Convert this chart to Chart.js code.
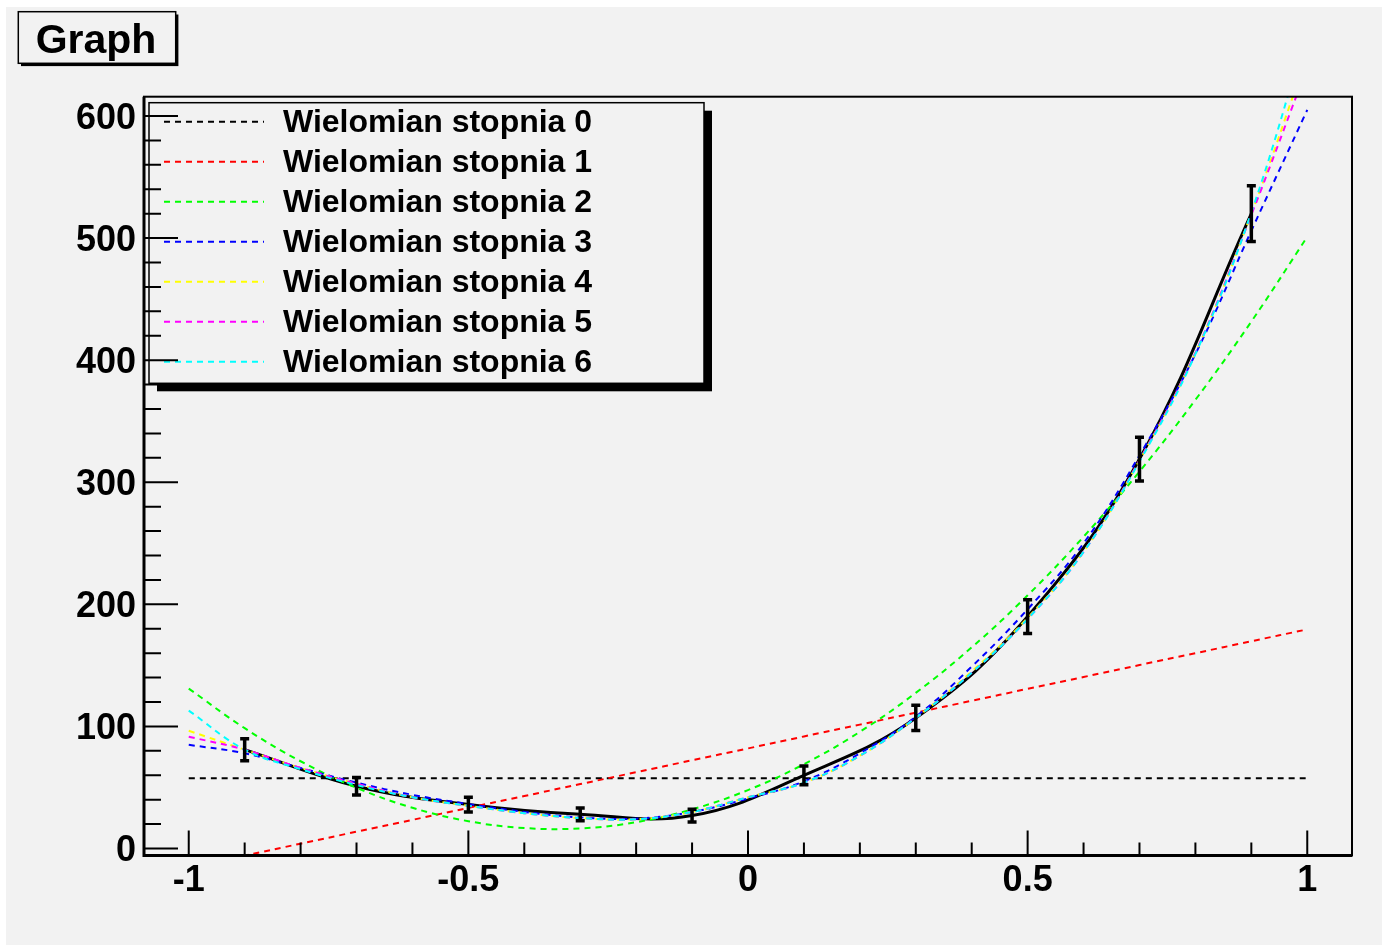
<!DOCTYPE html>
<html>
<head>
<meta charset="utf-8">
<title>Graph</title>
<script src="https://cdn.jsdelivr.net/npm/chart.js@4.4.0/dist/chart.umd.min.js"></script>
<style>
  html, body { margin: 0; padding: 0; background: #ffffff; }
  canvas { display: block; }
</style>
</head>
<body>
<canvas id="myChart" width="1382" height="945"></canvas>
<script>
// measured points of the graph, with their errors
const dataX = [-0.9, -0.7, -0.5, -0.3, -0.1, 0.1, 0.3, 0.5, 0.7, 0.9];
const dataY = [81, 51, 36, 28, 27, 60, 107, 190, 319, 520];
const dataErr = [9, 7.1, 6, 5.3, 5.2, 7.7, 10.3, 13.8, 17.9, 22.8];

// fitted polynomials at these x values
const fitX = [-1, -0.9, -0.8, -0.7, -0.6, -0.5, -0.4, -0.3, -0.2, -0.1, 0,
              0.1, 0.2, 0.3, 0.4, 0.5, 0.6, 0.7, 0.8, 0.9, 1];
const fit0 = [57.5, 57.5, 57.5, 57.5, 57.5, 57.5, 57.5, 57.5, 57.5, 57.5, 57.5,
              57.5, 57.5, 57.5, 57.5, 57.5, 57.5, 57.5, 57.5, 57.5, 57.5];
const fit1 = [-15.5, -5.8, 4, 13.8, 23.5, 33.3, 43, 52.8, 62.5, 72.3, 82,
              91.8, 101.5, 111.3, 121, 130.8, 140.5, 150.3, 160, 169.8, 179.5];
const fit2 = [131, 98.6, 71.5, 49.8, 33.4, 22.4, 16.8, 16.5, 21.6, 32.1, 47.9,
              69.1, 95.6, 127.5, 164.8, 207.4, 255.4, 308.8, 367.5, 431.6, 501];
const fit3 = [85, 78, 66, 54, 44, 36.5, 30, 25.5, 24.5, 30, 41,
              55, 78, 108, 149, 196, 250, 322, 405, 506, 605];
const fit4 = [96.5, 81, 66, 53, 42, 35, 29, 25, 24, 30, 42,
              54, 76, 107, 145, 189, 243, 318, 406, 520, 650];
const fit5 = [91.6, 81, 66, 53, 42, 35, 29, 25, 24, 30, 42,
              54, 76, 107, 144, 188, 243, 318, 406, 519, 640];
const fit6 = [113, 81, 65, 52, 42, 35, 29, 25, 24, 30, 42,
              54, 76, 107, 144, 188, 243, 317, 405, 521, 670];

const fitLabels = ["Wielomian stopnia 0", "Wielomian stopnia 1", "Wielomian stopnia 2",
                   "Wielomian stopnia 3", "Wielomian stopnia 4", "Wielomian stopnia 5",
                   "Wielomian stopnia 6"];
const fitColors = ["#000000", "#ff0000", "#00ff00", "#0000ff", "#ffff00", "#ff00ff", "#00ffff"];

// axis ticks
const xMajorTicks = [-1, -0.5, 0, 0.5, 1];
const xMinorTicks = [-0.9, -0.8, -0.7, -0.6, -0.4, -0.3, -0.2, -0.1,
                     0.1, 0.2, 0.3, 0.4, 0.6, 0.7, 0.8, 0.9];
const yMajorTicks = [0, 100, 200, 300, 400, 500, 600];
const yMinorTicks = [20, 40, 60, 80, 120, 140, 160, 180, 220, 240, 260, 280,
                     320, 340, 360, 380, 420, 440, 460, 480, 520, 540, 560, 580];

const FONT = "'Liberation Sans', Arial, Helvetica, sans-serif";
const PAD = "#f2f2f2";

function toPoints(xs, ys) {
    return xs.map((x, i) => ({ x: x, y: ys[i] }));
}

// ROOT style pad: title box, legend, frame with inner ticks, error bars
const rootPad = {
    id: 'rootPad',
    beforeDraw(chart) {
        const ctx = chart.ctx;
        ctx.save();
        ctx.fillStyle = "#ffffff";
        ctx.fillRect(0, 0, chart.width, chart.height);
        ctx.fillStyle = PAD;
        ctx.fillRect(6, 7, chart.width - 6, chart.height - 7);
        ctx.restore();
    },
    afterDatasetsDraw(chart) {
        const ctx = chart.ctx;
        const xs = chart.scales.x;
        const ys = chart.scales.y;
        const area = chart.chartArea;
        ctx.save();

        // error bars
        ctx.strokeStyle = "#000";
        ctx.lineWidth = 3.5;
        dataX.forEach((x, i) => {
            const px = xs.getPixelForValue(x);
            const top = ys.getPixelForValue(dataY[i] + dataErr[i]);
            const bot = ys.getPixelForValue(dataY[i] - dataErr[i]);
            ctx.beginPath();
            ctx.moveTo(px, top); ctx.lineTo(px, bot);
            ctx.moveTo(px - 4.5, top); ctx.lineTo(px + 4.5, top);
            ctx.moveTo(px - 4.5, bot); ctx.lineTo(px + 4.5, bot);
            ctx.stroke();
        });

        // legend box with shadow
        const lx = 149, ly = 102.7, lw = 555, lh = 280.6;
        ctx.fillStyle = "#000";
        ctx.fillRect(lx + 8, ly + 8, lw, lh);
        ctx.fillStyle = PAD;
        ctx.fillRect(lx, ly, lw, lh);
        ctx.lineWidth = 1.5;
        ctx.strokeRect(lx, ly, lw, lh);
        ctx.font = "bold 32px " + FONT;
        ctx.textBaseline = "alphabetic";
        ctx.textAlign = "left";
        fitLabels.forEach((label, k) => {
            const cy = 121.7 + 40 * k;
            ctx.strokeStyle = fitColors[k];
            ctx.lineWidth = 2;
            ctx.setLineDash([6, 5]);
            ctx.beginPath();
            ctx.moveTo(164, cy); ctx.lineTo(264, cy);
            ctx.stroke();
            ctx.setLineDash([]);
            ctx.fillStyle = "#000";
            ctx.fillText(label, 283, cy + 10.5);
        });

        // frame
        ctx.strokeStyle = "#000";
        ctx.lineWidth = 2;
        ctx.strokeRect(area.left, area.top, area.right - area.left, area.bottom - area.top);
        ctx.lineWidth = 3;
        ctx.beginPath();
        ctx.moveTo(area.left, area.top); ctx.lineTo(area.left, area.bottom);
        ctx.lineTo(area.right, area.bottom);
        ctx.stroke();

        // inner ticks
        ctx.lineWidth = 2;
        ctx.beginPath();
        xMajorTicks.forEach(v => {
            const px = xs.getPixelForValue(v);
            ctx.moveTo(px, area.bottom); ctx.lineTo(px, area.bottom - 25);
        });
        xMinorTicks.forEach(v => {
            const px = xs.getPixelForValue(v);
            ctx.moveTo(px, area.bottom); ctx.lineTo(px, area.bottom - 13);
        });
        yMajorTicks.forEach(v => {
            const py = ys.getPixelForValue(v);
            ctx.moveTo(area.left, py); ctx.lineTo(area.left + 34, py);
        });
        yMinorTicks.forEach(v => {
            const py = ys.getPixelForValue(v);
            ctx.moveTo(area.left, py); ctx.lineTo(area.left + 17, py);
        });
        ctx.stroke();

        // title box
        ctx.fillStyle = "#000";
        ctx.fillRect(21, 14.5, 157.4, 51.6);
        ctx.fillStyle = PAD;
        ctx.fillRect(18.3, 11.7, 157.4, 51.6);
        ctx.lineWidth = 1.5;
        ctx.strokeRect(18.3, 11.7, 157.4, 51.6);
        ctx.fillStyle = "#000";
        ctx.font = "bold 41px " + FONT;
        ctx.textAlign = "center";
        ctx.fillText("Graph", 96, 53);

        ctx.restore();
    }
};

const datasets = [];
const fits = [fit0, fit1, fit2, fit3, fit4, fit5, fit6];
fits.forEach((fit, k) => {
    datasets.push({
        label: fitLabels[k],
        data: toPoints(fitX, fit),
        borderColor: fitColors[k],
        borderWidth: 2,
        borderDash: [6, 5],
        pointRadius: 0,
        tension: 0.4,
        fill: false,
        order: 7 - k
    });
});
datasets.push({
    label: 'Graph',
    data: toPoints(dataX, dataY),
    borderColor: '#000',
    borderWidth: 3,
    pointRadius: 0,
    tension: 0.4,
    fill: false,
    order: 20
});

const tickFont = { family: FONT, size: 36, weight: 'bold' };

const ctx = document.getElementById('myChart');
const chart = new Chart(ctx, {
    type: 'line',
    data: { datasets: datasets },
    options: {
        responsive: false,
        animation: false,
        devicePixelRatio: 1,
        layout: { padding: { top: 96.7, right: 30, left: 0, bottom: 0 } },
        scales: {
            x: {
                type: 'linear',
                min: -1.08,
                max: 1.08,
                afterBuildTicks: (scale) => { scale.ticks = xMajorTicks.map(v => ({ value: v })); },
                afterFit: (scale) => { scale.height = 945 - 855.5; },
                grid: { display: false, drawTicks: false },
                border: { display: false },
                ticks: {
                    font: tickFont, color: '#000', padding: 4,
                    maxRotation: 0, autoSkip: false,
                    callback: (v) => String(v)
                }
            },
            y: {
                type: 'linear',
                min: -5.7,
                max: 615.8,
                afterBuildTicks: (scale) => { scale.ticks = yMajorTicks.map(v => ({ value: v })); },
                afterFit: (scale) => { scale.width = 144; },
                grid: { display: false, drawTicks: false },
                border: { display: false },
                ticks: {
                    font: tickFont, color: '#000', padding: 8, labelOffset: 3,
                    autoSkip: false,
                    callback: (v) => String(v)
                }
            }
        },
        plugins: {
            legend: { display: false },
            tooltip: { enabled: false }
        }
    },
    plugins: [rootPad]
});
</script>
</body>
</html>
